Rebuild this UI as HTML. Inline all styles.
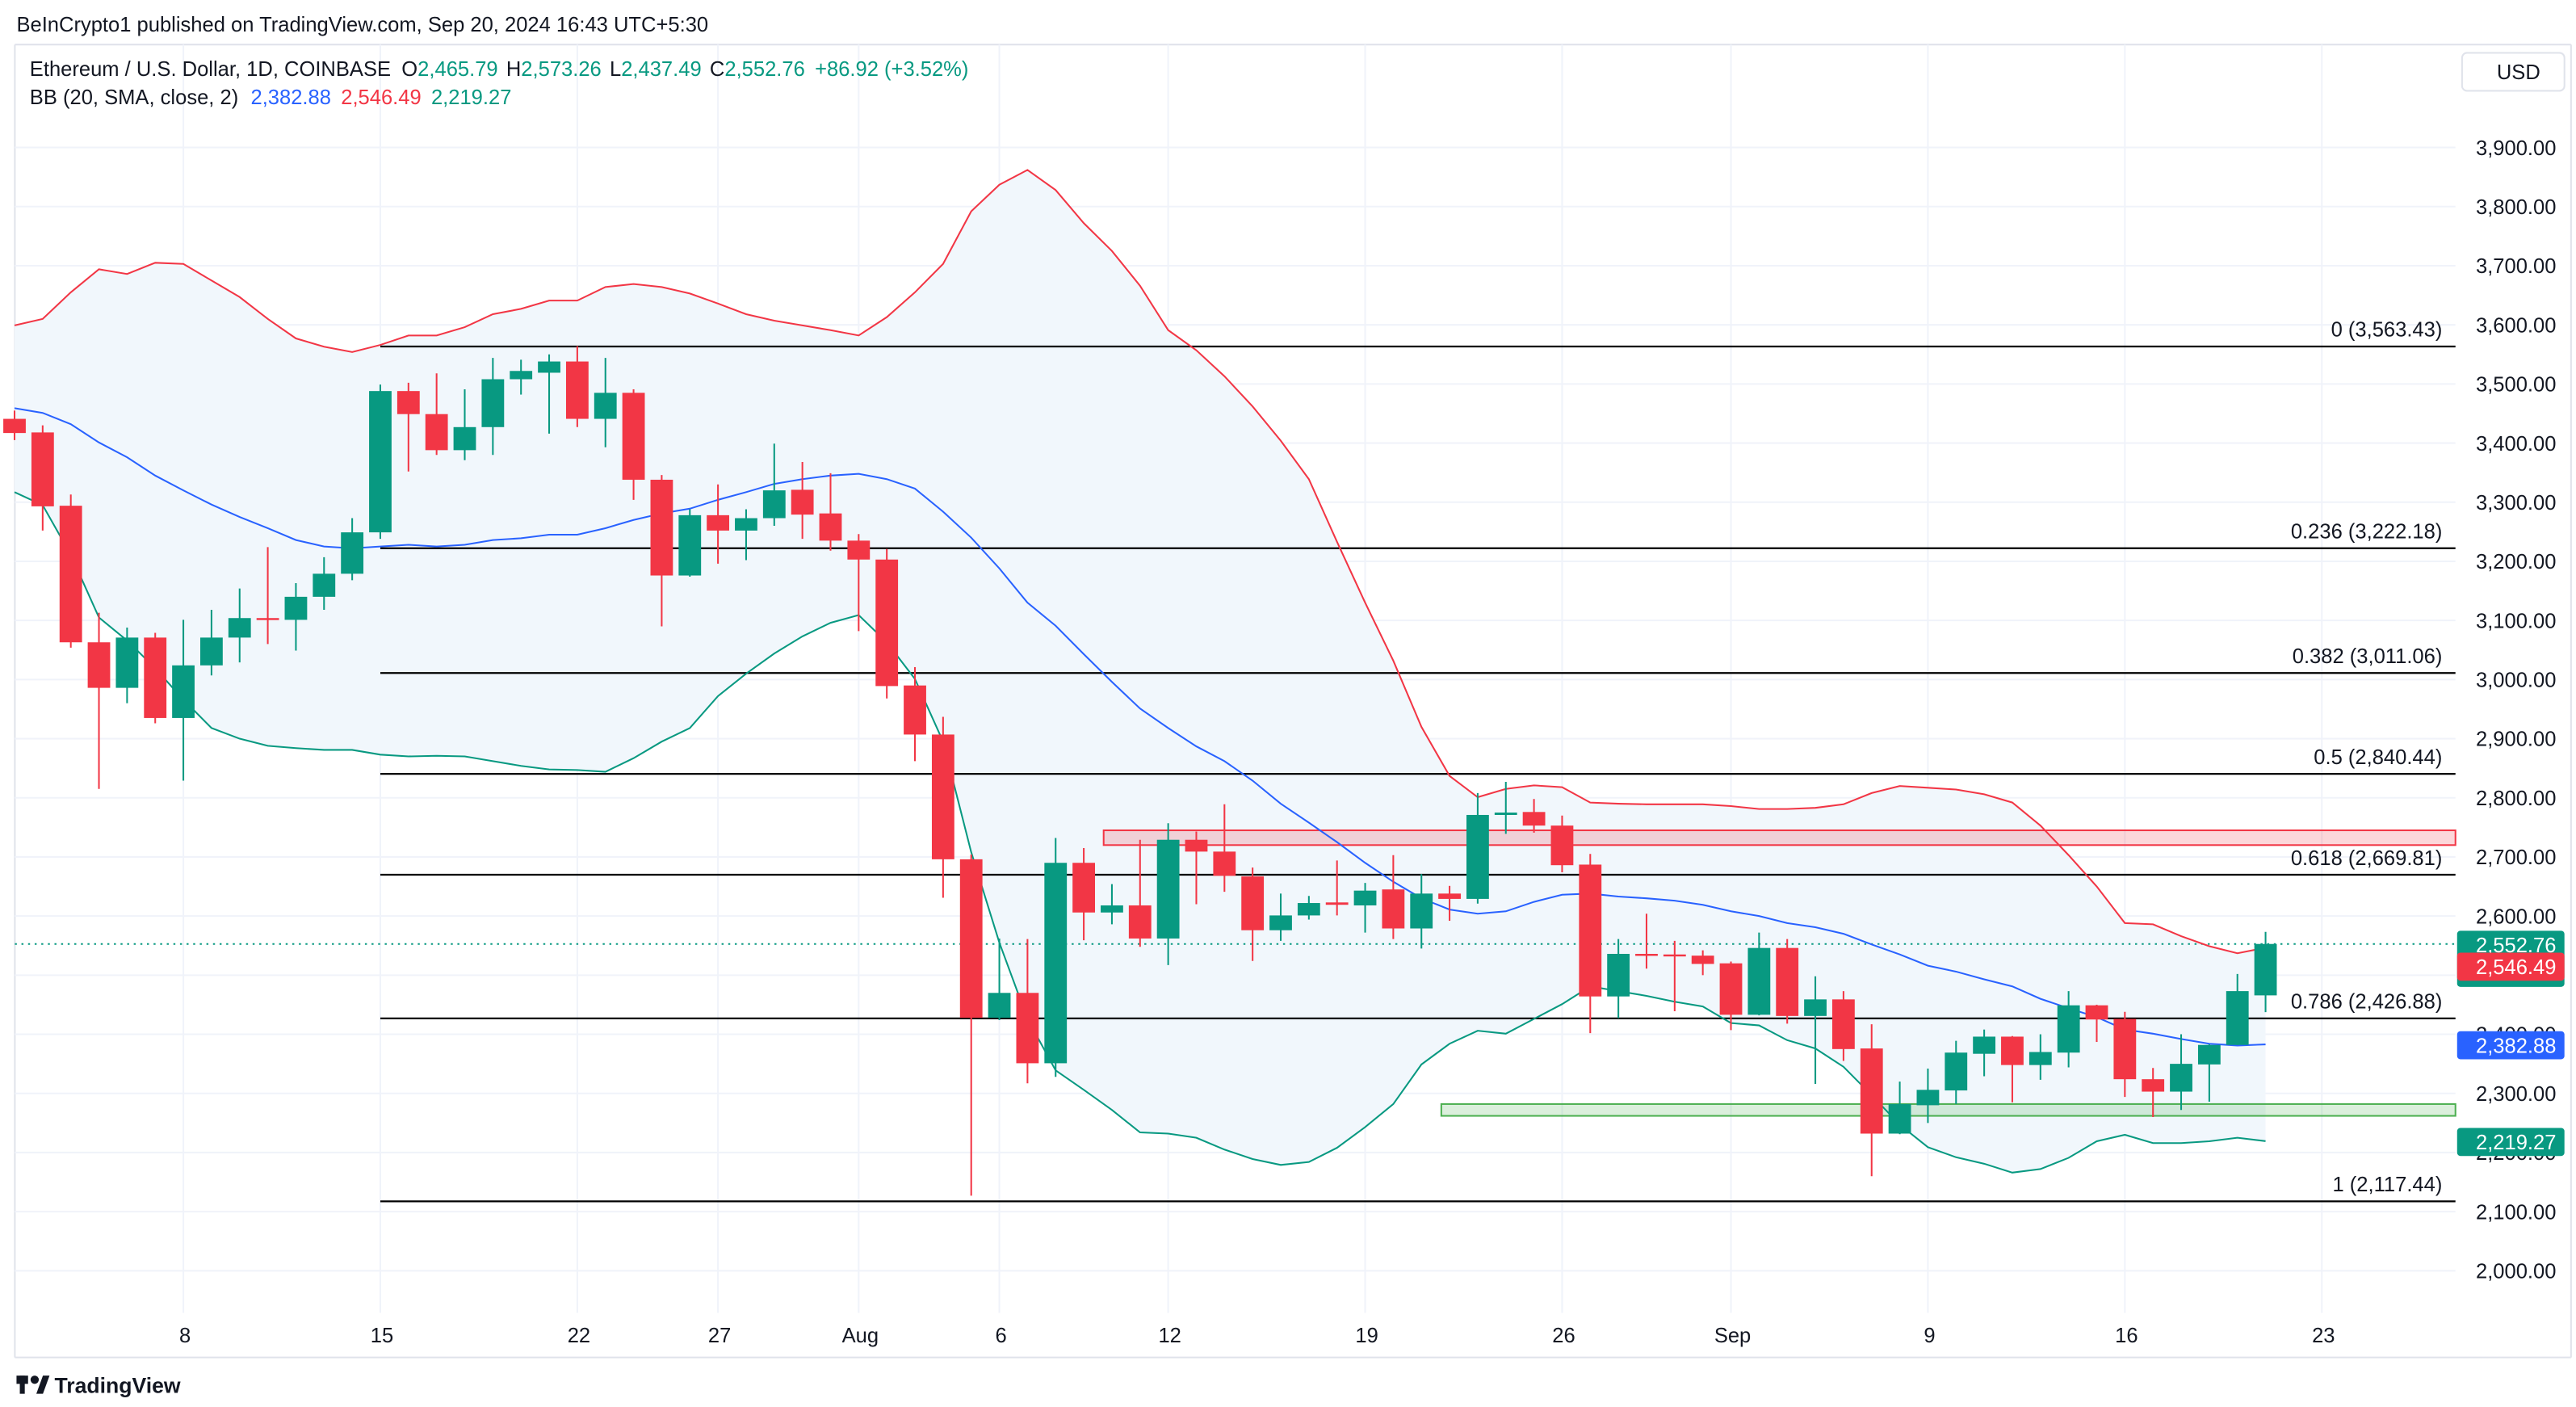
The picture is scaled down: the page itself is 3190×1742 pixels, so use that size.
<!DOCTYPE html>
<html><head><meta charset="utf-8"><title>ETH/USD chart</title>
<style>
html,body{margin:0;padding:0;background:#fff;}
svg{display:block;font-family:"Liberation Sans",Arial,sans-serif;}
</style></head>
<body>
<svg id="chart" xmlns="http://www.w3.org/2000/svg" width="3190" height="1742" viewBox="0 0 1560 852" preserveAspectRatio="none">
  <rect x="0" y="0" width="1560" height="852" fill="#ffffff"/>
  <text x="10" y="19" font-size="12.5" fill="#131722">BeInCrypto1 published on TradingView.com, Sep 20, 2024 16:43 UTC+5:30</text>
  <line x1="9" y1="27" x2="1557" y2="27" stroke="#e0e3eb" stroke-width="1"/>
  <line x1="9" y1="27" x2="9" y2="822" stroke="#e0e3eb" stroke-width="1"/>
  <line x1="1557" y1="27" x2="1557" y2="822" stroke="#e0e3eb" stroke-width="1"/>
  <line x1="9" y1="822" x2="1557" y2="822" stroke="#e0e3eb" stroke-width="1"/>
  <g id="grid"></g>
  <g id="band-fill"></g>
  <g id="zones"></g>
  <g id="fibs"></g>
  <g id="bands"></g>
  <g id="candles"></g>
  <g id="yaxis"></g>
  <g id="xaxis"></g>
  <g font-size="12.5">
    <text x="18" y="46" fill="#131722">Ethereum / U.S. Dollar, 1D, COINBASE <tspan dx="3">O</tspan><tspan fill="#089981">2,465.79</tspan><tspan dx="5">H</tspan><tspan fill="#089981">2,573.26</tspan><tspan dx="5">L</tspan><tspan fill="#089981">2,437.49</tspan><tspan dx="5">C</tspan><tspan fill="#089981">2,552.76</tspan><tspan dx="6" fill="#089981">+86.92 (+3.52%)</tspan></text>
    <text x="18" y="63" fill="#131722">BB (20, SMA, close, 2) <tspan dx="4" fill="#2962ff">2,382.88</tspan><tspan dx="6" fill="#f23645">2,546.49</tspan><tspan dx="6" fill="#089981">2,219.27</tspan></text>
  </g>
  <g>
    <rect x="1491" y="32" width="62" height="23" rx="3" fill="#fff" stroke="#e0e3eb"/>
    <text x="1512" y="48" font-size="12.5" fill="#131722">USD</text>
  </g>
  <g>
    <rect x="10" y="833" width="7" height="5" fill="#131722"/>
    <rect x="12" y="833" width="3" height="11" fill="#131722"/>
    <circle cx="21" cy="835.5" r="2.5" fill="#131722"/>
    <path d="M22 844 L26 833 L30 833 L26 844 Z" fill="#131722"/>
    <text x="33" y="843.5" font-size="13" font-weight="bold" fill="#131722">TradingView</text>
  </g>
</svg>
<script>
// ---- data ----
const dates = ["Jul 2","Jul 3","Jul 4","Jul 5","Jul 6","Jul 7","Jul 8","Jul 9","Jul 10","Jul 11","Jul 12","Jul 13","Jul 14","Jul 15","Jul 16","Jul 17","Jul 18","Jul 19","Jul 20","Jul 21","Jul 22","Jul 23","Jul 24","Jul 25","Jul 26","Jul 27","Jul 28","Jul 29","Jul 30","Jul 31","Aug 1","Aug 2","Aug 3","Aug 4","Aug 5","Aug 6","Aug 7","Aug 8","Aug 9","Aug 10","Aug 11","Aug 12","Aug 13","Aug 14","Aug 15","Aug 16","Aug 17","Aug 18","Aug 19","Aug 20","Aug 21","Aug 22","Aug 23","Aug 24","Aug 25","Aug 26","Aug 27","Aug 28","Aug 29","Aug 30","Aug 31","Sep 1","Sep 2","Sep 3","Sep 4","Sep 5","Sep 6","Sep 7","Sep 8","Sep 9","Sep 10","Sep 11","Sep 12","Sep 13","Sep 14","Sep 15","Sep 16","Sep 17","Sep 18","Sep 19","Sep 20"];
const opens = [3441,3418,3294,3063,2986,3071,2935,3024,3071,3104,3101,3140,3179,3249,3488,3449,3388,3427,3508,3519,3538,3441,3485,3338,3176,3278,3252,3273,3321,3281,3235,3203,2990,2907,2696,2428,2470,2351,2690,2606,2618,2562,2729,2709,2667,2576,2601,2623,2618,2645,2579,2638,2629,2771,2776,2753,2687,2464,2536,2535,2533,2520,2433,2546,2431,2459,2376,2232,2280,2305,2367,2396,2348,2369,2449,2426,2324,2303,2349,2382,2465.79];
const highs = [3455,3430,3313,3113,3088,3079,3101,3118,3154,3224,3163,3207,3273,3499,3502,3518,3491,3544,3541,3550,3564,3544,3491,3346,3288,3330,3288,3399,3368,3349,3246,3221,3021,2937,2704,2562,2561,2732,2715,2654,2729,2757,2743,2789,2682,2638,2634,2694,2656,2703,2671,2651,2808,2827,2798,2770,2705,2561,2604,2558,2542,2523,2572,2561,2498,2473,2417,2320,2342,2389,2408,2397,2400,2473,2450,2438,2343,2400,2383,2502,2573.26];
const lows = [3405,3252,3054,2815,2960,2926,2829,3007,3029,3060,3049,3118,3168,3238,3352,3380,3371,3380,3482,3416,3427,3393,3304,3090,3174,3196,3202,3260,3238,3218,3082,2968,2862,2631,2127,2424,2317,2328,2559,2586,2548,2517,2620,2641,2524,2558,2594,2601,2572,2561,2545,2592,2621,2739,2741,2674,2402,2427,2511,2439,2500,2407,2432,2418,2316,2355,2160,2231,2250,2282,2329,2285,2323,2344,2387,2294,2260,2272,2286,2382,2437.49];
const closes = [3417,3293,3063,2986,3071,2935,3024,3071,3104,3101,3140,3179,3249,3488,3449,3388,3427,3508,3522,3538,3441,3485,3338,3176,3278,3252,3273,3320,3279,3235,3203,2989,2907,2696,2428,2470,2351,2690,2606,2618,2562,2729,2709,2668,2576,2601,2622,2619,2643,2579,2638,2629,2771,2775,2753,2686,2464,2536,2534,2532,2519,2433,2546,2431,2459,2375,2232,2282,2306,2369,2396,2348,2370,2449,2425,2324,2303,2350,2382,2473,2552.76];
const bbUpper = [3599,3610,3655,3694,3686,3705,3703,3675,3647,3610,3577,3563,3554,3566,3582,3582,3596,3618,3627,3641,3641,3664,3669,3664,3653,3636,3618,3607,3599,3591,3582,3613,3655,3703,3792,3837,3862,3828,3772,3725,3666,3591,3557,3513,3462,3404,3339,3233,3130,3032,2920,2837,2801,2815,2821,2818,2792,2790,2789,2789,2789,2786,2781,2781,2783,2789,2808,2820,2817,2814,2806,2792,2753,2703,2650,2588,2586,2566,2549,2537,2546.49];
const bbBasis = [3459,3451,3432,3401,3376,3345,3320,3296,3275,3256,3236,3225,3222,3225,3228,3225,3228,3236,3239,3245,3245,3256,3270,3281,3289,3304,3317,3331,3339,3345,3348,3339,3323,3284,3240,3188,3130,3091,3043,2996,2951,2918,2887,2862,2829,2790,2758,2725,2690,2658,2630,2611,2604,2608,2624,2636,2638,2633,2630,2626,2619,2608,2600,2588,2581,2570,2552,2535,2516,2506,2493,2481,2460,2444,2429,2408,2401,2392,2384,2381,2382.88];
const bbLower = [3317,3295,3211,3105,3066,3019,2966,2918,2900,2888,2884,2881,2881,2873,2870,2871,2870,2862,2854,2848,2847,2844,2867,2895,2918,2972,3010,3044,3073,3096,3109,3063,3001,2895,2708,2555,2426,2339,2306,2272,2234,2232,2225,2205,2189,2179,2184,2208,2243,2282,2349,2384,2406,2401,2426,2451,2481,2473,2465,2455,2447,2419,2415,2390,2376,2345,2297,2247,2209,2192,2181,2166,2172,2191,2219,2230,2216,2216,2219,2225,2219.27];
const priceTicks = [2000,2100,2200,2300,2400,2500,2600,2700,2800,2900,3000,3100,3200,3300,3400,3500,3600,3700,3800,3900];
const dateTickIndex = [6,13,20,25,30,35,41,48,55,61,68,75,82];
const dateTickLabels = ["8","15","22","27","Aug","6","12","19","26","Sep","9","16","23"];
const fibRatios = ["0","0.236","0.382","0.5","0.618","0.786","1"];
const fibPrices = [3563.43,3222.18,3011.06,2840.44,2669.81,2426.88,2117.44];
const fibStartIndex = 13;
const resistZone = [2720,2745];
const supportZone = [2262,2282];
const resistStartIndex = 39;
const supportStartIndex = 51;
const lastPrice = 2552.76;

// ---- scales ----
const PLOT_L = 9, PLOT_R = 1487;
function xs(i){ return 8.8 + i*17.04; }
function ys(p){ return 769.5 - (p-2000)*0.358; }
const NS = "http://www.w3.org/2000/svg";
function mk(tag, attrs, parent){ const e=document.createElementNS(NS,tag); for(const k in attrs) e.setAttribute(k,attrs[k]); parent.appendChild(e); return e; }
function fmt(v){ return v.toLocaleString("en-US",{minimumFractionDigits:2,maximumFractionDigits:2}); }

// grid
const grid=document.getElementById("grid");
priceTicks.forEach(p=>{ const l=mk("line",{x1:PLOT_L,x2:PLOT_R,y1:ys(p),y2:ys(p),stroke:"#f0f3fa","stroke-width":1},grid);
  
   });
dateTickIndex.forEach(i=>{ const l=mk("line",{x1:xs(i),x2:xs(i),y1:27,y2:795,stroke:"#f0f3fa","stroke-width":1},grid);
  
   });

// band fill
const bf=document.getElementById("band-fill");
let d="";
bbUpper.forEach((v,i)=>{ d+=(i?"L":"M")+xs(i)+" "+ys(v)+" "; });
for(let i=bbLower.length-1;i>=0;i--) d+="L"+xs(i)+" "+ys(bbLower[i])+" ";
const fillPath=mk("path",{d:d+"Z",fill:"#f1f7fc"},bf);



// zones
const zn=document.getElementById("zones");
const rz=mk("rect",{x:xs(resistStartIndex)-5,y:ys(resistZone[1]),width:PLOT_R-xs(resistStartIndex)+5,height:ys(resistZone[0])-ys(resistZone[1]),fill:"rgba(242,54,69,0.2)",stroke:"#f23645","stroke-width":1},zn);


const sz=mk("rect",{x:xs(supportStartIndex)-5,y:ys(supportZone[1]),width:PLOT_R-xs(supportStartIndex)+5,height:ys(supportZone[0])-ys(supportZone[1]),fill:"rgba(76,175,80,0.2)",stroke:"#4caf50","stroke-width":1},zn);



// fibs
const fb=document.getElementById("fibs");
fibPrices.forEach((p,k)=>{
  const y=ys(p);
  const l=mk("line",{x1:xs(fibStartIndex),x2:PLOT_R,y1:y,y2:y,stroke:"#000","stroke-width":1.1},fb);
  
  
  const t=mk("text",{x:1479,y:y-6,"text-anchor":"end","font-size":12.5,fill:"#131722"},fb);
  t.textContent=fibRatios[k]+" ("+fmt(p)+")";
  
  
});

// current price dotted line
const cl=mk("line",{x1:PLOT_L,x2:PLOT_R,y1:ys(lastPrice),y2:ys(lastPrice),stroke:"#089981","stroke-width":1,"stroke-dasharray":"1.2 2.8"},fb);



// bands
const bd=document.getElementById("bands");
function line(arr,color,name){ let s=""; arr.forEach((v,i)=>{ s+=(i?"L":"M")+xs(i)+" "+ys(v)+" "; });
  const p=mk("path",{d:s,fill:"none",stroke:color,"stroke-width":1},bd);
  
   }
line(bbUpper,"#f23645","bb-upper");
line(bbBasis,"#2962ff","bb-basis");
line(bbLower,"#089981","bb-lower");

// candles
const cg=document.getElementById("candles");
opens.forEach((o,i)=>{
  const c=closes[i], up=c>=o, col=up?"#089981":"#f23645", x=xs(i);
  const g=mk("g",{},cg);
  
  
  mk("line",{x1:x,x2:x,y1:ys(highs[i]),y2:ys(lows[i]),stroke:col,"stroke-width":1},g);
  const top=ys(Math.max(o,c)), h=Math.max(1.2,ys(Math.min(o,c))-top);
  mk("rect",{x:x-6.8,y:top,width:13.6,height:h,fill:col},g);
});

// y axis labels
const ya=document.getElementById("yaxis");
priceTicks.forEach(p=>{ const t=mk("text",{x:1548,y:ys(p)+4.5,"text-anchor":"end","font-size":12.5,fill:"#131722"},ya);
  t.textContent=fmt(p);
  
   });
function tag(y,h,color,lines,name){ const g=mk("g",{},ya);
  
  
  mk("rect",{x:1488,y:y,width:65,height:h,rx:2,fill:color},g);
  lines.forEach((s,k)=>{ const t=mk("text",{x:1548,y:y+13+k*15,"text-anchor":"end","font-size":12.5,fill:k?"rgba(255,255,255,0.75)":"#fff"},g); t.textContent=s; }); }
tag(ys(lastPrice)-8,34,"#089981",[fmt(lastPrice),"12:46:40"],"last-price-tag");
tag(ys(bbUpper[bbUpper.length-1])+3,17,"#f23645",[fmt(bbUpper[bbUpper.length-1])],"bb-upper-tag");
tag(ys(bbBasis[bbBasis.length-1])-8,17,"#2962ff",[fmt(bbBasis[bbBasis.length-1])],"bb-basis-tag");
tag(ys(bbLower[bbLower.length-1])-8,17,"#089981",[fmt(bbLower[bbLower.length-1])],"bb-lower-tag");

// x axis labels
const xa=document.getElementById("xaxis");
dateTickIndex.forEach((i,k)=>{ const t=mk("text",{x:xs(i)+1,y:813,"text-anchor":"middle","font-size":12.5,fill:"#131722"},xa);
  t.textContent=dateTickLabels[k];
  
   });
</script>
</body></html>
